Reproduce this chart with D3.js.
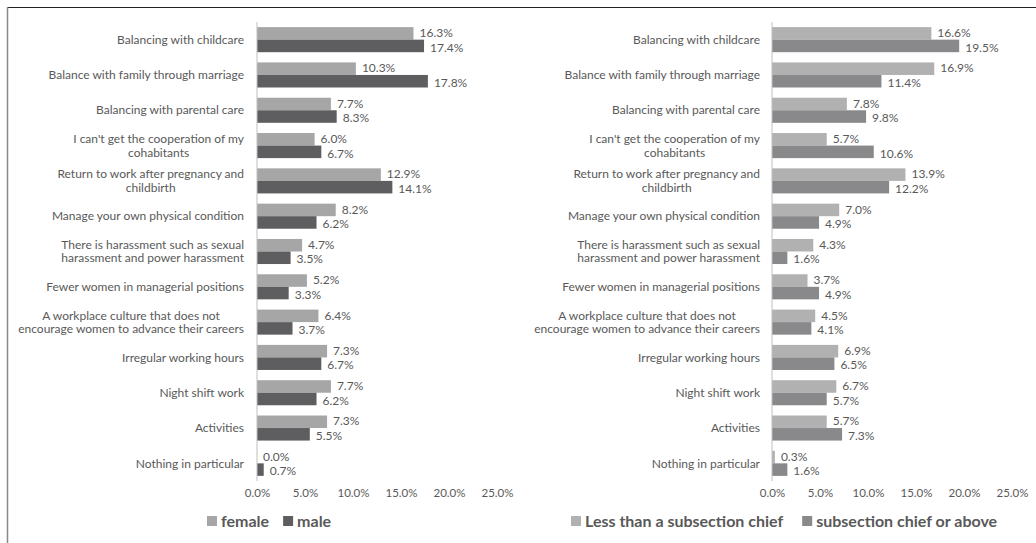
<!DOCTYPE html>
<html>
<head>
<meta charset="utf-8">
<script src="https://cdn.jsdelivr.net/npm/d3@7"></script>
<style>
  html, body { margin: 0; padding: 0; background: #fff; }
  svg { display: block; font-family: Lato, "Open Sans", sans-serif; }
</style>
</head>
<body>
<svg id="chart" width="1036" height="543"></svg>
<script>
// Survey categories (label lines split where the category text wraps)
const categories = [
  ["Balancing with childcare"],
  ["Balance with family through marriage"],
  ["Balancing with parental care"],
  ["I can't get the cooperation of my", "cohabitants"],
  ["Return to work after pregnancy and", "childbirth"],
  ["Manage your own physical condition"],
  ["There is harassment such as sexual", "harassment and power harassment"],
  ["Fewer women in managerial positions"],
  ["A workplace culture that does not", "encourage women to advance their careers"],
  ["Irregular working hours"],
  ["Night shift work"],
  ["Activities"],
  ["Nothing in particular"]
];

// By gender
const femaleValues = [16.3, 10.3, 7.7, 6.0, 12.9, 8.2, 4.7, 5.2, 6.4, 7.3, 7.7, 7.3, 0.0];
const maleValues   = [17.4, 17.8, 8.3, 6.7, 14.1, 6.2, 3.5, 3.3, 3.7, 6.7, 6.2, 5.5, 0.7];

// By position
const belowChiefValues = [16.6, 16.9, 7.8, 5.7, 13.9, 7.0, 4.3, 3.7, 4.5, 6.9, 6.7, 5.7, 0.3];
const chiefAboveValues = [19.5, 11.4, 9.8, 10.6, 12.2, 4.9, 1.6, 4.9, 4.1, 6.5, 5.7, 7.3, 1.6];

const tickValues = [0, 5, 10, 15, 20, 25];

const svg = d3.select("#chart");
const textColor = "#595959";

// Frame lines
svg.append("line").attr("x1", 7.5).attr("x2", 1036).attr("y1", 7.5).attr("y2", 7.5)
  .attr("stroke", "#222").attr("stroke-width", 1);
svg.append("line").attr("x1", 7.5).attr("x2", 7.5).attr("y1", 7).attr("y2", 543)
  .attr("stroke", "#888").attr("stroke-width", 1.5);

function drawPanel(opts) {
  const { x0, labelRight, seriesA, seriesB, colorA, colorB, legend } = opts;
  const x = d3.scaleLinear().domain([0, 25]).range([x0, x0 + 240]);
  const y = d3.scaleBand().domain(d3.range(categories.length)).range([22, 481]).paddingInner(0.29).paddingOuter(0.145);
  const g = svg.append("g");
  const bh = y.bandwidth() / 2;

  // bars and value labels
  [[seriesA, colorA, 0], [seriesB, colorB, 1]].forEach(([vals, color, k]) => {
    g.selectAll(null).data(vals).enter().append("rect")
      .attr("x", x(0))
      .attr("y", (d, i) => y(i) + k * bh)
      .attr("width", d => x(d) - x(0))
      .attr("height", bh)
      .attr("fill", color);
    g.selectAll(null).data(vals).enter().append("text")
      .attr("x", d => x(d) + 6)
      .attr("y", (d, i) => y(i) + k * bh + bh / 2 + (k === 0 ? -0.5 : 1.5))
      .attr("dy", "0.35em")
      .attr("font-size", 12)
      .attr("fill", textColor)
      .text(d => d.toFixed(1) + "%");
  });

  // vertical axis line
  g.append("line").attr("x1", x(0)).attr("x2", x(0)).attr("y1", 22).attr("y2", 481)
    .attr("stroke", "#bfbfbf").attr("stroke-width", 1);

  // category labels (multi-line labels centred on their widest line)
  categories.forEach((lines, i) => {
    const cy = y(i) + y.bandwidth() / 2;
    const lh = 13.5;
    const t = g.append("text").attr("font-size", 12).attr("fill", textColor);
    const spans = lines.map((s, j) => t.append("tspan")
      .attr("y", cy + (j - (lines.length - 1) / 2) * lh)
      .attr("dy", "0.35em").text(s));
    if (lines.length === 1) {
      t.attr("text-anchor", "end");
      spans[0].attr("x", labelRight);
    } else {
      const w = d3.max(spans, s => s.node().getComputedTextLength());
      t.attr("text-anchor", "middle");
      spans.forEach(s => s.attr("x", labelRight - w / 2));
    }
  });

  // x axis tick labels
  const axis = d3.axisBottom(x).tickValues(tickValues).tickSize(0).tickPadding(0)
    .tickFormat(d => d.toFixed(1) + "%");
  const ag = g.append("g").attr("transform", "translate(0,489)").call(axis);
  ag.select(".domain").remove();
  ag.selectAll("text").attr("font-size", 11.5).attr("fill", textColor).attr("font-family", "Lato, sans-serif");

  // legend
  let lx = legend.x;
  legend.items.forEach(([name, color]) => {
    g.append("rect").attr("x", lx).attr("y", 516).attr("width", 10).attr("height", 10).attr("fill", color);
    const t = g.append("text").attr("x", lx + 14).attr("y", 521).attr("dy", "0.35em")
      .attr("font-size", 16).attr("font-weight", "bold").attr("fill", textColor).text(name);
    lx += 14 + t.node().getComputedTextLength() + legend.gap;
  });
}

drawPanel({
  x0: 257, labelRight: 244,
  seriesA: femaleValues, seriesB: maleValues,
  colorA: "#a6a6a7", colorB: "#5e5e60",
  legend: { x: 207, gap: 14, items: [["female", "#a6a6a7"], ["male", "#5e5e60"]] }
});

drawPanel({
  x0: 772, labelRight: 760,
  seriesA: belowChiefValues, seriesB: chiefAboveValues,
  colorA: "#b1b1b2", colorB: "#89898b",
  legend: { x: 571, gap: 19, items: [["Less than a subsection chief", "#b1b1b2"], ["subsection chief or above", "#89898b"]] }
});
</script>
</body>
</html>
